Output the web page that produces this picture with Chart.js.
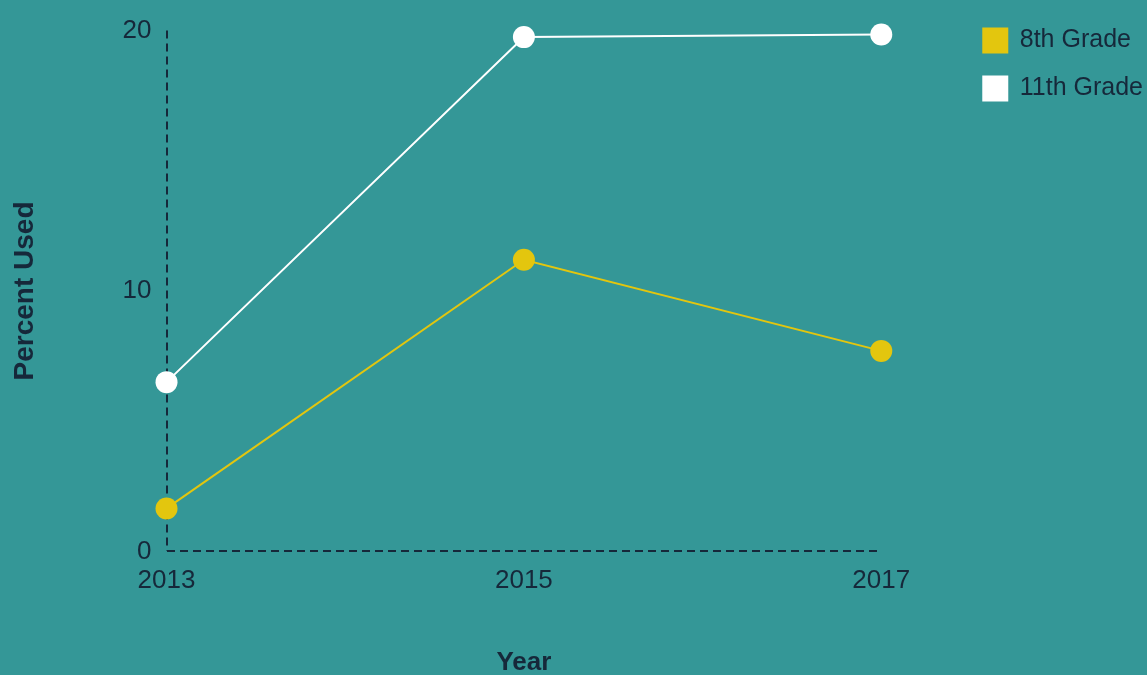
<!DOCTYPE html>
<html>
<head>
<meta charset="utf-8">
<script src="https://cdn.jsdelivr.net/npm/chart.js@4"></script>
<style>
  html, body { margin: 0; padding: 0; background: #349797; }
  #wrap { width: 1147px; height: 675px; }
</style>
</head>
<body>
<div id="wrap"><canvas id="lineChart" width="1147" height="675"></canvas></div>
<script>
var years = ['2013', '2015', '2017'];
var grade8 = [1.65, 11.2, 7.7];
var grade11 = [6.5, 19.75, 19.85];
var yTicks = [0, 10, 20];

var ink = '#16283a';
var font = "'Liberation Sans', Arial, sans-serif";

// only the first grid line is shown, dashed, so it looks like the axis line
function firstLineOnly(c) {
    return c.index === 0 ? ink : 'rgba(0,0,0,0)';
}

// push the legend away from the plot, like in the original
var legendShift = {
    id: 'legendShift',
    afterLayout: function (chart) {
        var lg = chart.legend;
        var dx = 79, dy = -14;
        lg.left += dx; lg.right += dx;
        lg.top += dy; lg.bottom += dy;
    }
};

var ctx = document.getElementById('lineChart').getContext('2d');
var myChart = new Chart(ctx, {
    type: 'line',
    data: {
        labels: years,
        datasets: [{
            label: '8th Grade',
            data: grade8,
            borderColor: '#e3c60e',
            backgroundColor: '#e3c60e',
            borderWidth: 2,
            pointRadius: 11,
            pointHoverRadius: 11,
            pointBorderWidth: 0,
            clip: false
        }, {
            label: '11th Grade',
            data: grade11,
            borderColor: '#ffffff',
            backgroundColor: '#ffffff',
            borderWidth: 2,
            pointRadius: 11,
            pointHoverRadius: 11,
            pointBorderWidth: 0,
            clip: false
        }]
    },
    options: {
        responsive: false,
        animation: false,
        layout: { padding: { top: 19, left: 8, right: 73, bottom: 0 } },
        plugins: {
            tooltip: { enabled: false },
            legend: {
                position: 'right',
                align: 'start',
                labels: {
                    color: ink,
                    font: { family: font, size: 25 },
                    boxWidth: 24,
                    boxHeight: 24,
                    padding: 23
                }
            }
        },
        scales: {
            x: {
                offset: false,
                grid: { display: true, drawTicks: false, color: firstLineOnly, lineWidth: 2 },
                border: { display: false, dash: [8, 5] },
                ticks: { color: ink, font: { family: font, size: 26 }, padding: 14, maxRotation: 0 },
                title: { display: true, text: 'Year', color: ink, font: { family: font, size: 26, weight: 'bold', lineHeight: 0.9 }, padding: { top: 41, bottom: 0 } }
            },
            y: {
                min: 0,
                max: 20,
                afterBuildTicks: function (axis) {
                    axis.ticks = yTicks.map(function (v) { return { value: v }; });
                },
                grid: { display: true, drawTicks: false, color: firstLineOnly, lineWidth: 2 },
                border: { display: false, dash: [8, 5] },
                ticks: { color: ink, font: { family: font, size: 26 }, padding: 15 },
                title: { display: true, text: 'Percent Used', color: ink, font: { family: font, size: 28, weight: 'bold' }, padding: { top: 0, bottom: 66 } }
            }
        }
    },
    plugins: [legendShift]
});
</script>
</body>
</html>
